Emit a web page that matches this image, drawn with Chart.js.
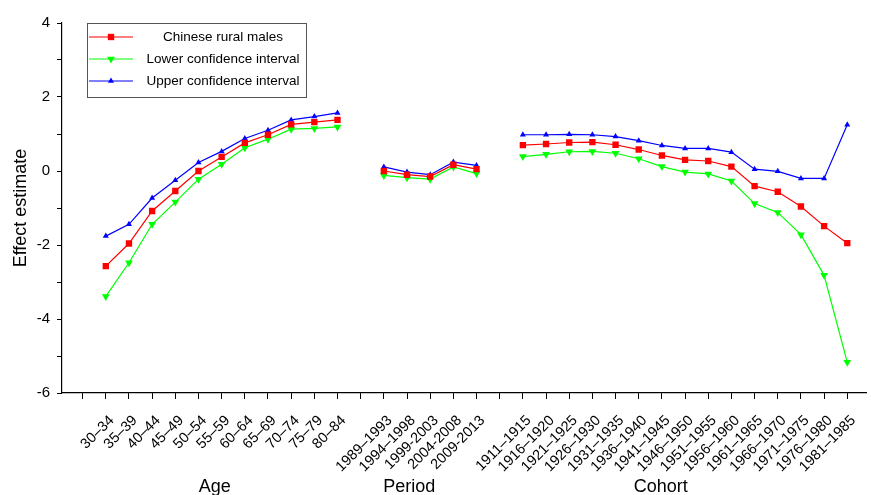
<!DOCTYPE html>
<html>
<head>
<meta charset="utf-8">
<script src="https://cdn.jsdelivr.net/npm/chart.js@4.4.0/dist/chart.umd.min.js"></script>
<style>
html, body { margin: 0; padding: 0; background: #fff; }
#wrap { width: 871px; height: 495px; }
</style>
</head>
<body>
<div id="wrap"><canvas id="apcChart" width="871" height="495"></canvas></div>
<script>
// categories
const ageLabels = ['30–34', '35–39', '40–44', '45–49', '50–54', '55–59', '60–64', '65–69', '70–74', '75–79', '80–84'];
const periodLabels = ['1989–1993', '1994–1998', '1999-2003', '2004-2008', '2009-2013'];
const cohortLabels = ['1911–1915', '1916–1920', '1921–1925', '1926–1930', '1931–1935', '1936–1940', '1941–1945',
    '1946–1950', '1951–1955', '1956–1960', '1961–1965', '1966–1970', '1971–1975', '1976–1980', '1981–1985'];
const groupNames = ['Age', 'Period', 'Cohort'];

// Chinese rural males
const ageEst = [-2.57, -1.96, -1.08, -0.54, 0.0, 0.38, 0.76, 0.98, 1.26, 1.32, 1.38];
const periodEst = [0.0, -0.10, -0.15, 0.17, 0.05];
const cohortEst = [0.70, 0.73, 0.77, 0.78, 0.71, 0.58, 0.42, 0.30, 0.27, 0.12, -0.41, -0.56, -0.96, -1.49, -1.95];

// lower confidence interval
const ageLow = [-3.39, -2.48, -1.44, -0.84, -0.22, 0.18, 0.63, 0.86, 1.13, 1.15, 1.19];
const periodLow = [-0.12, -0.18, -0.22, 0.11, -0.07];
const cohortLow = [0.39, 0.45, 0.52, 0.53, 0.48, 0.33, 0.12, -0.03, -0.08, -0.27, -0.88, -1.12, -1.72, -2.82, -5.17];

// upper confidence interval
const ageHigh = [-1.76, -1.44, -0.73, -0.25, 0.23, 0.53, 0.88, 1.10, 1.38, 1.47, 1.57];
const periodHigh = [0.11, -0.03, -0.10, 0.24, 0.15];
const cohortHigh = [0.98, 0.98, 0.99, 0.98, 0.93, 0.82, 0.69, 0.61, 0.61, 0.51, 0.05, -0.01, -0.20, -0.20, 1.25];

const yTicks = [-6, -4, -2, 0, 2, 4];

// one blank slot before each group
const allLabels = ['', ...ageLabels, '', ...periodLabels, '', ...cohortLabels];

function joinGroups(a, p, c) {
    const vals = [null, ...a, null, ...p, null, ...c];
    return vals.map((v, i) => ({ x: i, y: v }));
}

const FONT = '"Liberation Sans", Arial, sans-serif';

// legend box drawn inside the plot, as in the original figure
const legendBox = {
    id: 'legendBox',
    afterDraw(chart) {
        const ctx = chart.ctx;
        ctx.save();
        ctx.strokeStyle = '#555';
        ctx.lineWidth = 1;
        ctx.strokeRect(87.5, 23.5, 219, 74);
        chart.data.datasets.forEach((ds, i) => {
            const y = 37 + i * 22;
            ctx.strokeStyle = ds.borderColor;
            ctx.lineWidth = 1.2;
            ctx.beginPath();
            ctx.moveTo(89, y);
            ctx.lineTo(133, y);
            ctx.stroke();
            ctx.fillStyle = ds.borderColor;
            Chart.helpers.drawPoint(ctx, {
                pointStyle: ds.pointStyle,
                rotation: ds.pointRotation || 0,
                radius: ds.pointRadius,
                borderWidth: 0
            }, 111, y);
            ctx.fillStyle = '#000';
            ctx.font = '13.5px ' + FONT;
            ctx.textAlign = 'center';
            ctx.textBaseline = 'middle';
            ctx.fillText(ds.label, 223, y);
        });
        ctx.restore();
    }
};

// group names under the rotated tick labels
const groupTitles = {
    id: 'groupTitles',
    afterDraw(chart) {
        const ctx = chart.ctx;
        const xs = chart.scales.x;
        const centers = [5.7, 14.1, 24.95];
        ctx.save();
        ctx.fillStyle = '#000';
        ctx.font = '18px ' + FONT;
        ctx.textAlign = 'center';
        ctx.textBaseline = 'alphabetic';
        groupNames.forEach((name, i) => {
            ctx.fillText(name, xs.getPixelForValue(centers[i]), 492);
        });
        ctx.restore();
    }
};

new Chart(document.getElementById('apcChart'), {
    type: 'line',
    data: {
        datasets: [{
            label: 'Chinese rural males',
            data: joinGroups(ageEst, periodEst, cohortEst),
            borderColor: '#ff0000',
            backgroundColor: '#ff0000',
            borderWidth: 1.2,
            pointStyle: 'rect',
            pointRadius: 4.5,
            pointBorderWidth: 0
        }, {
            label: 'Lower confidence interval',
            data: joinGroups(ageLow, periodLow, cohortLow),
            borderColor: '#00ff00',
            backgroundColor: '#00ff00',
            borderWidth: 1.2,
            pointStyle: 'triangle',
            pointRotation: 180,
            pointRadius: 4.5,
            pointBorderWidth: 0
        }, {
            label: 'Upper confidence interval',
            data: joinGroups(ageHigh, periodHigh, cohortHigh),
            borderColor: '#0000ff',
            backgroundColor: '#0000ff',
            borderWidth: 1.2,
            pointStyle: 'triangle',
            pointRadius: 3.5,
            pointBorderWidth: 0
        }]
    },
    options: {
        responsive: false,
        animation: false,
        layout: { padding: { top: 23, right: 0, left: 0, bottom: 0 } },
        plugins: {
            legend: { display: false },
            tooltip: { enabled: false }
        },
        scales: {
            x: {
                type: 'linear',
                min: -0.89,
                max: 33.83,
                afterFit: (scale) => {
                    scale.height = 102;
                    scale.paddingLeft = 0;
                    scale.paddingRight = 0;
                },
                afterBuildTicks: (scale) => {
                    scale.ticks = allLabels.map((l, i) => ({ value: i }));
                },
                border: { display: true, color: '#000', width: 1.2 },
                grid: { drawOnChartArea: false, drawTicks: true, tickLength: 6, tickColor: '#000' },
                ticks: {
                    autoSkip: false,
                    minRotation: 45,
                    maxRotation: 45,
                    padding: 13,
                    labelOffset: 6,
                    color: '#000',
                    font: { family: FONT, size: 14.5 },
                    callback: (v) => allLabels[v] !== undefined ? allLabels[v] : ''
                }
            },
            y: {
                min: -6,
                max: 4,
                afterFit: (scale) => { scale.width = 62; },
                border: { display: true, color: '#000', width: 1.2 },
                grid: { drawOnChartArea: false, drawTicks: true, tickLength: 5, tickColor: '#000' },
                ticks: {
                    stepSize: 1,
                    padding: 7,
                    color: '#000',
                    font: { family: FONT, size: 15 },
                    callback: (v) => yTicks.includes(v) ? String(v) : ''
                },
                title: {
                    display: true,
                    text: 'Effect estimate',
                    color: '#000',
                    font: { family: FONT, size: 18 },
                    padding: { top: 10, bottom: 0 }
                }
            }
        }
    },
    plugins: [legendBox, groupTitles]
});
</script>
</body>
</html>
